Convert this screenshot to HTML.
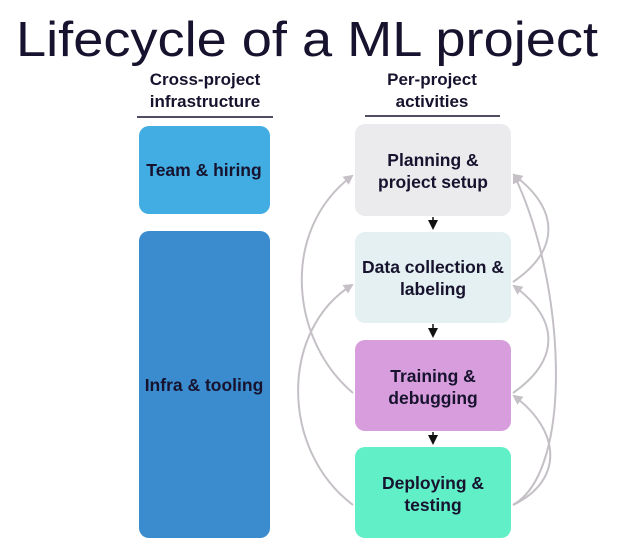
<!DOCTYPE html>
<html><head><style>
html,body{margin:0;padding:0;background:#fff;}
svg{display:block}
text{font-family:"Liberation Sans",Arial,sans-serif;}
</style></head><body>
<svg width="634" height="546" viewBox="0 0 634 546" xmlns="http://www.w3.org/2000/svg">
<defs>
<marker id="g" markerWidth="10" markerHeight="10" refX="8" refY="5" orient="auto" markerUnits="userSpaceOnUse"><path d="M0,0 L10,5 L0,10 Z" fill="#c4c0c6"/></marker>
<marker id="b" markerWidth="10" markerHeight="10" refX="8" refY="5" orient="auto" markerUnits="userSpaceOnUse"><path d="M0,0 L10,5 L0,10 Z" fill="#111"/></marker>
</defs>
<text x="16" y="56" font-size="49" fill="#17132e" textLength="582" lengthAdjust="spacingAndGlyphs">Lifecycle of a ML project</text>
<g font-size="17" font-weight="bold" fill="#17132e" text-anchor="middle">
<text x="205" y="85">Cross-project</text>
<text x="205" y="107">infrastructure</text>
<text x="432" y="85">Per-project</text>
<text x="432" y="107">activities</text>
</g>
<line x1="137" y1="117" x2="273" y2="117" stroke="#17132e" stroke-width="1.5"/>
<line x1="365" y1="116" x2="500" y2="116" stroke="#17132e" stroke-width="1.5"/>
<rect x="139" y="126" width="131" height="88" rx="10" fill="#42ade3"/>
<rect x="139" y="231" width="131" height="307" rx="10" fill="#3a8ccf"/>
<rect x="355" y="124" width="156" height="92" rx="10" fill="#ebebed"/>
<rect x="355" y="232" width="156" height="91" rx="10" fill="#e4f0f1"/>
<rect x="355" y="340" width="156" height="91" rx="10" fill="#d89ddc"/>
<rect x="355" y="447" width="156" height="91" rx="10" fill="#61efc8"/>
<g font-size="17.5" font-weight="bold" fill="#17132e" text-anchor="middle">
<text x="204" y="176">Team &amp; hiring</text>
<text x="204" y="391">Infra &amp; tooling</text>
<text x="433" y="166">Planning &amp;</text>
<text x="433" y="188">project setup</text>
<text x="433" y="273">Data collection &amp;</text>
<text x="433" y="295">labeling</text>
<text x="433" y="382">Training &amp;</text>
<text x="433" y="404">debugging</text>
<text x="433" y="489">Deploying &amp;</text>
<text x="433" y="511">testing</text>
</g>
<g stroke="#111" stroke-width="1.5" fill="none">
<line x1="433" y1="217" x2="433" y2="228" marker-end="url(#b)"/>
<line x1="433" y1="324" x2="433" y2="336" marker-end="url(#b)"/>
<line x1="433" y1="432" x2="433" y2="443" marker-end="url(#b)"/>
</g>
<g stroke="#c4c0c6" stroke-width="2" fill="none" marker-end="url(#g)">
<path d="M353,393 C290,340 280,230 352,176"/>
<path d="M353,505 C280,450 280,330 352,285"/>
<path d="M513,282 C560,250 560,210 514,175"/>
<path d="M513,393 C560,360 560,320 514,286"/>
<path d="M513,505 C575,470 565,280 514,175"/>
<path d="M513,505 C565,480 560,430 514,396"/>
</g>
</svg>
</body></html>
